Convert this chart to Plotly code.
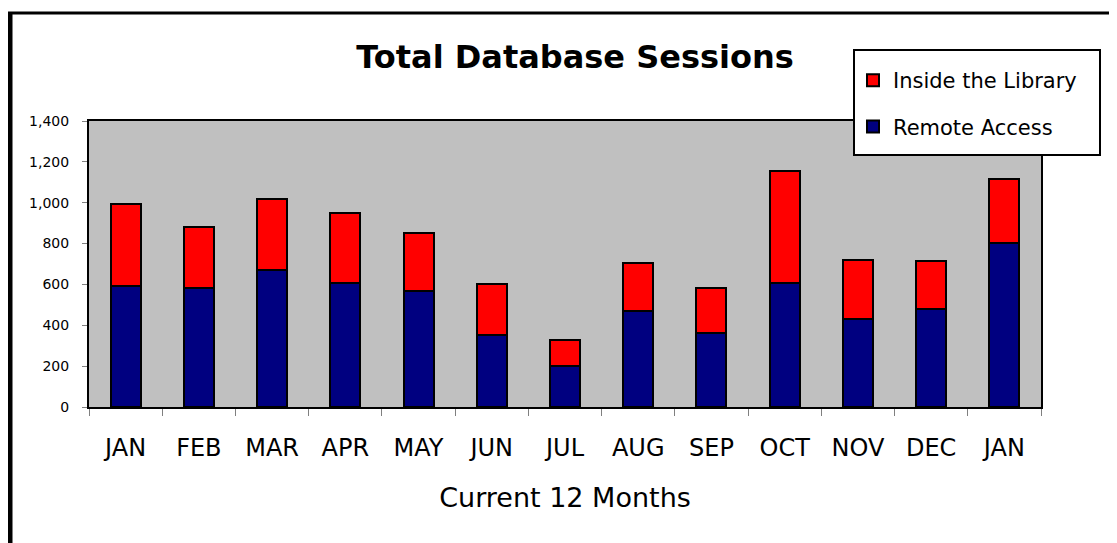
import plotly.graph_objs as go

# month ids are unique so the two JANs stay separate bars
month_ids = ['JAN-1', 'FEB', 'MAR', 'APR', 'MAY', 'JUN', 'JUL',
             'AUG', 'SEP', 'OCT', 'NOV', 'DEC', 'JAN-2']
month_labels = ['JAN', 'FEB', 'MAR', 'APR', 'MAY', 'JUN', 'JUL',
                'AUG', 'SEP', 'OCT', 'NOV', 'DEC', 'JAN']
remote_access = [591, 582, 669, 609, 566, 354, 201, 468, 364, 607, 432, 480, 803]
inside_library = [404, 299, 349, 342, 284, 250, 125, 238, 218, 550, 289, 233, 311]

font_name = 'DejaVu Sans'

# the page body has an 8px margin, so the figure is drawn 8px smaller
# and every target position (window pixels) is shifted by OFF
OFF = 8
W, H = 1117 - OFF, 543 - OFF
L, R, T, B = 89 - OFF, 1041 - OFF, 121 - OFF, 407 - OFF

def px(x):
    return (x - OFF - L) / (R - L)

def py(y):
    return (B - (y - OFF)) / (B - T)

remote_go = go.Bar(
    x=month_ids,
    y=remote_access,
    name='Remote Access',
    legendgroup='remote',
    legendrank=2,
    marker=dict(color='#000080', line=dict(color='black', width=2)),
)
inside_go = go.Bar(
    x=month_ids,
    y=inside_library,
    name='Inside the Library',
    legendgroup='inside',
    legendrank=1,
    marker=dict(color='#FF0000', line=dict(color='black', width=2)),
)

layout = go.Layout(
    width=W,
    height=H,
    autosize=False,
    barmode='stack',
    bargap=0.59,
    paper_bgcolor='white',
    plot_bgcolor='#C0C0C0',
    margin=dict(l=L, r=W - R, t=T, b=H - B),
    font=dict(family=font_name, color='black'),
    title=dict(text='<b>Total Database Sessions</b>', x=px(575), xref='paper',
               xanchor='center', y=1 - (57 - OFF) / H, yanchor='middle',
               font=dict(size=32, family=font_name, color='black')),
    showlegend=True,
    legend=dict(x=px(853), y=py(60), xanchor='left', yanchor='top',
                traceorder='grouped', bgcolor='rgba(0,0,0,0)',
                borderwidth=0, tracegroupgap=16,
                font=dict(size=21, family=font_name, color='black')),
    xaxis=dict(
        type='category',
        tickvals=month_ids,
        ticktext=month_labels,
        tickson='boundaries',
        ticks='outside', ticklen=7, tickcolor='#808080',
        ticklabelstandoff=18,
        tickfont=dict(size=24),
        showline=True, linecolor='black', linewidth=2, mirror=True,
        showgrid=False,
        title=dict(text='Current 12 Months', font=dict(size=27), standoff=27),
    ),
    yaxis=dict(
        range=[0, 1400],
        dtick=200,
        tickformat=',',
        ticks='outside', ticklen=5, tickcolor='#808080',
        ticklabelstandoff=10,
        tickfont=dict(size=14),
        showline=True, linecolor='black', linewidth=2, mirror=True,
        showgrid=False, zeroline=False,
    ),
    shapes=[
        # outer frame, left and top edges
        dict(type='line', xref='paper', yref='paper', x0=px(10), x1=px(10),
             y0=py(12), y1=py(560), line=dict(color='black', width=5)),
        dict(type='line', xref='paper', yref='paper', x0=px(8), x1=px(1130),
             y0=py(13), y1=py(13), line=dict(color='black', width=3)),
        # legend box
        dict(type='rect', xref='paper', yref='paper', x0=px(854), x1=px(1100),
             y0=py(155), y1=py(50), fillcolor='white',
             line=dict(color='black', width=2)),
    ],
)

figure = go.Figure(data=[remote_go, inside_go], layout=layout)
figure.write_html('out.html')
